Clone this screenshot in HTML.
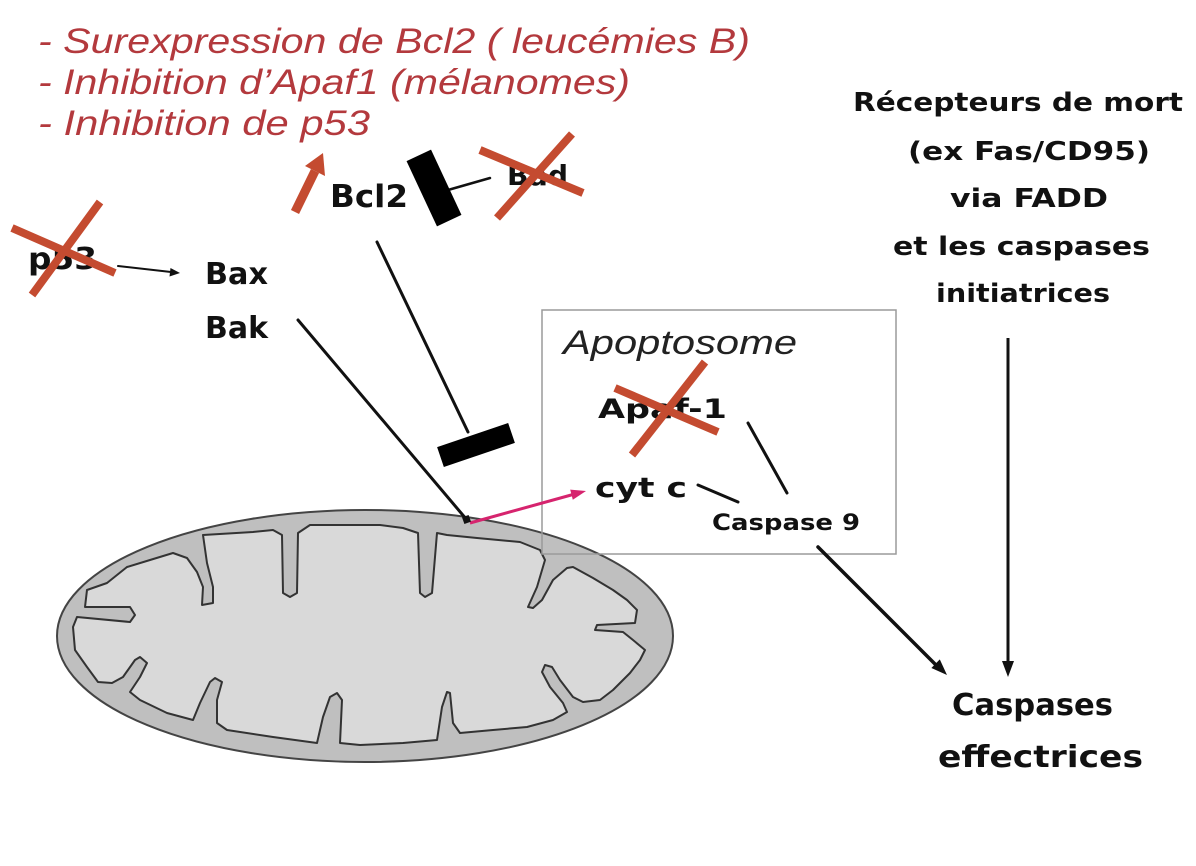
<!DOCTYPE html>
<html><head><meta charset="utf-8"><style>
html,body{margin:0;padding:0;background:#fff;}
svg{display:block;}
.red{font-family:"Liberation Sans",sans-serif;font-style:italic;font-size:35px;fill:#b3393d;}
.b{font-family:"DejaVu Sans","Liberation Sans",sans-serif;font-weight:bold;fill:#111;}
</style></head><body>
<svg width="1196" height="866" viewBox="0 0 1196 866" xmlns="http://www.w3.org/2000/svg">
<rect width="1196" height="866" fill="#fff"/>

<!-- red text -->
<text class="red" x="38" y="53" textLength="712" lengthAdjust="spacingAndGlyphs">- Surexpression de Bcl2 ( leucémies B)</text>
<text class="red" x="38" y="94" textLength="592" lengthAdjust="spacingAndGlyphs">- Inhibition d’Apaf1 (mélanomes)</text>
<text class="red" x="38" y="135" textLength="332" lengthAdjust="spacingAndGlyphs">- Inhibition de p53</text>

<!-- right text block -->
<g class="b" font-size="26">
<text x="853" y="111" textLength="330" lengthAdjust="spacingAndGlyphs">Récepteurs de mort</text>
<text x="908" y="160" textLength="242" lengthAdjust="spacingAndGlyphs">(ex Fas/CD95)</text>
<text x="950" y="207" textLength="158" lengthAdjust="spacingAndGlyphs">via FADD</text>
<text x="893" y="255" textLength="257" lengthAdjust="spacingAndGlyphs">et les caspases</text>
<text x="936" y="302" textLength="174" lengthAdjust="spacingAndGlyphs">initiatrices</text>
</g>
<g class="b" font-size="30">
<text x="952" y="715" textLength="161" lengthAdjust="spacingAndGlyphs">Caspases</text>
<text x="938" y="767" textLength="205" lengthAdjust="spacingAndGlyphs">effectrices</text>
</g>

<!-- vertical arrow -->
<line x1="1008" y1="338" x2="1008" y2="664" stroke="#111" stroke-width="3"/>
<polygon points="1008,677 1002,661 1014,661" fill="#111"/>

<!-- mitochondrion -->
<ellipse cx="365" cy="636" rx="308" ry="126" fill="#bfbfbf" stroke="#444" stroke-width="2"/>
<path d="M85,607 L87,590 L107,583 L127,567 L150,560 L173,553 L187,558 L197,572 L203,587 L202,605 L213,603 L213,587 L207,563 L203,535 L253,532 L273,530 L282,535 L283,593 L290,597 L297,593 L298,533 L310,525 L380,525 L403,528 L418,533 L420,593 L425,597 L432,593 L437,533 L447,535 L477,538 L520,542 L540,550 L545,560 L537,587 L528,607 L533,608 L542,600 L553,580 L567,568 L573,567 L593,578 L613,590 L627,600 L637,610 L635,623 L597,625 L595,630 L623,632 L633,640 L645,650 L640,660 L630,673 L613,690 L600,700 L583,702 L573,697 L560,680 L552,667 L545,665 L542,672 L550,687 L563,703 L567,712 L553,720 L527,727 L493,730 L460,733 L453,723 L450,693 L447,692 L442,707 L437,740 L403,743 L360,745 L340,743 L342,700 L337,693 L330,697 L323,717 L317,743 L273,737 L227,730 L217,723 L217,700 L222,682 L215,678 L210,682 L200,703 L193,720 L167,713 L140,700 L130,692 L140,677 L147,663 L140,657 L135,660 L123,677 L112,683 L98,682 L87,667 L75,650 L73,627 L77,617 L130,622 L135,615 L130,607 Z" fill="#d9d9d9" stroke="#333" stroke-width="2" stroke-linejoin="round"/>

<!-- apoptosome box -->
<rect x="542" y="310" width="354" height="244" fill="none" stroke="#9a9a9a" stroke-width="1.5"/>
<text x="563" y="354" font-family="Liberation Sans, sans-serif" font-style="italic" font-size="34" fill="#222" textLength="234" lengthAdjust="spacingAndGlyphs">Apoptosome</text>

<g class="b">
<text x="598" y="418" font-size="27" textLength="129" lengthAdjust="spacingAndGlyphs">Apaf-1</text>
<text x="595" y="497" font-size="28" textLength="92" lengthAdjust="spacingAndGlyphs">cyt c</text>
<text x="712" y="530" font-size="22" textLength="148" lengthAdjust="spacingAndGlyphs">Caspase 9</text>
<text x="28" y="269" font-size="30" textLength="69" lengthAdjust="spacingAndGlyphs">p53</text>
<text x="205" y="284" font-size="30" textLength="63" lengthAdjust="spacingAndGlyphs">Bax</text>
<text x="205" y="338" font-size="30" textLength="63" lengthAdjust="spacingAndGlyphs">Bak</text>
<text x="330" y="207" font-size="31" textLength="78" lengthAdjust="spacingAndGlyphs">Bcl2</text>
<text x="507" y="185" font-size="28" textLength="61" lengthAdjust="spacingAndGlyphs">Bad</text>
</g>

<!-- connectors -->
<g stroke="#111" stroke-linecap="round">
<line x1="748" y1="423" x2="787" y2="493" stroke-width="3"/>
<line x1="698" y1="485" x2="738" y2="502" stroke-width="3"/>
<line x1="818" y1="547" x2="937" y2="666" stroke-width="3.5"/>
<line x1="118" y1="266" x2="171" y2="272" stroke-width="2"/>
<line x1="298" y1="320" x2="467" y2="520" stroke-width="3"/>
<line x1="377" y1="242" x2="468" y2="432" stroke-width="3"/>
<line x1="448" y1="190" x2="490" y2="178" stroke-width="2.5"/>
</g>
<polygon points="947,675 931.4,668 939.8,659.4" fill="#111"/>
<polygon points="180,273 169.5,276.5 170.5,268" fill="#111"/>

<!-- bars -->
<rect x="-13.5" y="-36" width="27" height="72" fill="#000" transform="translate(434,188) rotate(-25)"/>
<rect x="-37.5" y="-10.5" width="75" height="21" fill="#000" transform="translate(476,445) rotate(-18.7)"/>

<!-- pink arrow -->
<line x1="470" y1="523" x2="573" y2="494.5" stroke="#d6246e" stroke-width="3"/>
<polygon points="586,491 572.8,499.8 570.2,489.6" fill="#d6246e"/>
<rect x="463" y="516" width="7" height="7" fill="#111" transform="rotate(-20 466.5 519.5)"/>

<!-- red up arrow -->
<line x1="295" y1="212" x2="315" y2="171" stroke="#c44b30" stroke-width="9"/>
<polygon points="323,153 305,166 325,176" fill="#c44b30"/>

<!-- red crosses -->
<g stroke="#c44b30" stroke-width="8" stroke-linecap="butt">
<line x1="12" y1="228" x2="115" y2="273"/>
<line x1="100" y1="202" x2="32" y2="295"/>
<line x1="480" y1="150" x2="583" y2="193"/>
<line x1="572" y1="134" x2="497" y2="218"/>
<line x1="615" y1="388" x2="718" y2="432"/>
<line x1="705" y1="362" x2="632" y2="455"/>
</g>
</svg>
</body></html>
